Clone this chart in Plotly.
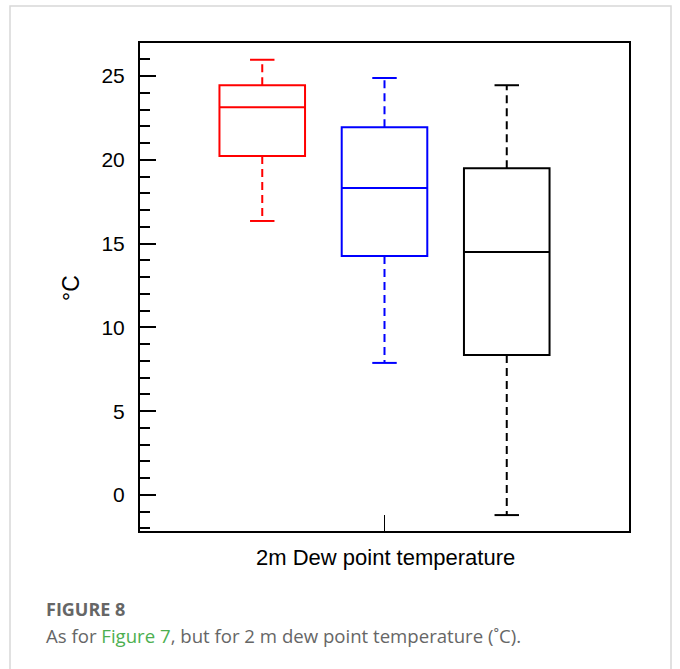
import plotly.graph_objects as go

# Data
positions = [1, 2, 3]
colors = ["#ff0000", "#0000ff", "#000000"]
lower_whisker = [16.35, 7.88, -1.2]
q1 = [20.23, 14.26, 8.35]
median = [23.13, 18.32, 14.5]
q3 = [24.45, 21.95, 19.5]
upper_whisker = [25.97, 24.88, 24.45]

y_ticks = [0, 5, 10, 15, 20, 25]
x_label = "2m Dew point temperature"
y_label = "°C"

box_half = 0.35
cap_half = 0.1

fig = go.Figure()

for i in range(len(positions)):
    xc = positions[i]
    c = colors[i]
    # box
    fig.add_trace(go.Box(
        x=[xc], q1=[q1[i]], median=[median[i]], q3=[q3[i]],
        lowerfence=[q1[i]], upperfence=[q3[i]],
        width=2 * box_half, whiskerwidth=0,
        fillcolor="rgba(0,0,0,0)", line=dict(color=c, width=2),
        boxpoints=False, showlegend=False, hoverinfo="skip"))
    # whiskers (dashed)
    fig.add_trace(go.Scatter(
        x=[xc, xc, None, xc, xc],
        y=[q3[i], upper_whisker[i], None, q1[i], lower_whisker[i]],
        mode="lines", line=dict(color=c, width=2, dash="8px,5px"),
        showlegend=False, hoverinfo="skip"))
    # caps
    fig.add_trace(go.Scatter(
        x=[xc - cap_half, xc + cap_half, None, xc - cap_half, xc + cap_half],
        y=[upper_whisker[i], upper_whisker[i], None, lower_whisker[i], lower_whisker[i]],
        mode="lines", line=dict(color=c, width=2),
        showlegend=False, hoverinfo="skip"))

W, H = 680, 669
L, R, T, B = 140, 629, 43, 531
pw, ph = R - L, B - T

def px(x):
    return (x - L) / pw

def py(y):
    return (B - y) / ph

FONT = "Liberation Sans, Arial, sans-serif"
CAP_FONT = "Open Sans, Noto Sans, sans-serif"

fig.update_layout(
    width=W, height=H,
    margin=dict(l=L, r=W - R, t=T, b=H - B),
    paper_bgcolor="white", plot_bgcolor="white",
    font=dict(family=FONT, color="black"),
    xaxis=dict(
        range=[0, 4], tickmode="array", tickvals=[2], ticktext=[""],
        ticks="inside", ticklen=16, tickwidth=1, tickcolor="black",
        showgrid=False, zeroline=False, showline=True, linecolor="black",
        linewidth=2, mirror=True, fixedrange=True),
    yaxis=dict(
        range=[-2.15, 26.97], tickmode="array", tickvals=y_ticks,
        ticks="inside", ticklen=16, tickwidth=2, tickcolor="black",
        tickfont=dict(size=21, family=FONT, color="black"),
        ticklabelstandoff=9,
        minor=dict(dtick=1, tick0=0, ticks="inside", ticklen=10, tickwidth=2,
                   tickcolor="black", showgrid=False),
        showgrid=False, zeroline=False, showline=True, linecolor="black",
        linewidth=2, mirror=True, fixedrange=True),
    shapes=[dict(type="rect", xref="paper", yref="paper",
                 x0=px(10), x1=px(671), y0=py(680), y1=py(6),
                 line=dict(color="#d8d8d8", width=1.5), fillcolor="rgba(0,0,0,0)",
                 layer="below")],
    annotations=[
        dict(text=x_label, xref="paper", yref="paper", x=px(385), y=py(557),
             xanchor="center", yanchor="middle", showarrow=False,
             font=dict(size=22, family=FONT, color="black")),
        dict(text=y_label, xref="paper", yref="paper", x=px(71), y=py(288),
             xanchor="center", yanchor="middle", showarrow=False, textangle=-90,
             font=dict(size=23, family=FONT, color="black")),
        dict(text="<b>FIGURE 8</b>", xref="paper", yref="paper", x=px(44), y=py(609),
             xanchor="left", yanchor="middle", showarrow=False,
             font=dict(size=18, family=CAP_FONT, color="#666666")),
        dict(text="As for <span style='color:#4caf50'>Figure 7</span>, but for 2 m dew point temperature (˚C).",
             xref="paper", yref="paper", x=px(44), y=py(635),
             xanchor="left", yanchor="middle", showarrow=False,
             font=dict(size=18.6, family=CAP_FONT, color="#666666")),
    ],
)

fig.write_html("out.html", config={"displayModeBar": False},
               post_script="document.body.style.margin='0px';")
